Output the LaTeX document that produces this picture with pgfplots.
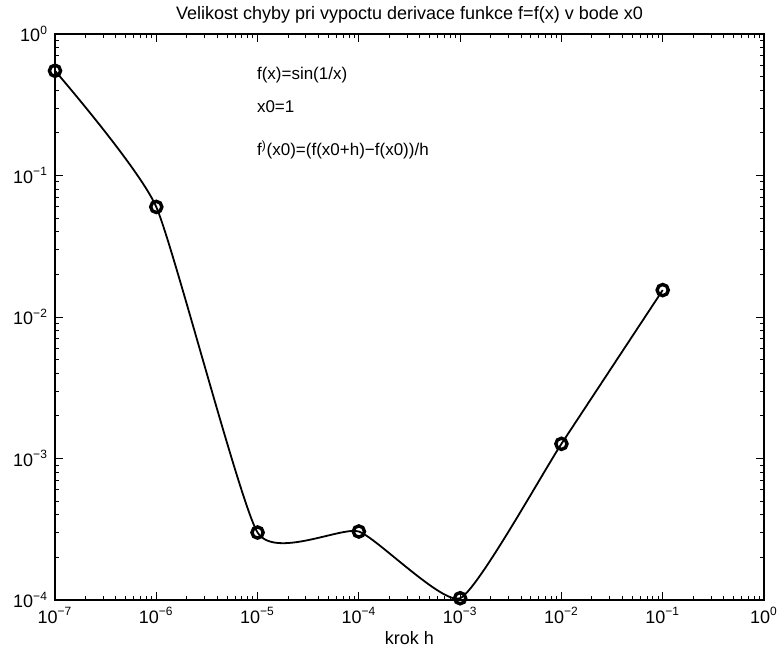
\documentclass[border=0pt]{standalone}
\usepackage{fontspec}
\setmainfont{Liberation Sans}
\usepackage{pgfplots}
\pgfplotsset{compat=1.18}
\newcommand\tp[1]{10\textsuperscript{#1}}
\begin{document}
\begin{tikzpicture}
\begin{axis}[
  scale only axis,
  width=354.5pt, height=283pt,
  xmode=log, ymode=log,
  xmin=1e-7, xmax=1, ymin=1e-4, ymax=1,
  axis line style={line width=0.8pt},
  xtick={1e-7,1e-6,1e-5,1e-4,1e-3,1e-2,1e-1,1},
  xticklabels={\tp{−7},\tp{−6},\tp{−5},\tp{−4},\tp{−3},\tp{−2},\tp{−1},\tp{0}},
  ytick={1e-4,1e-3,1e-2,1e-1,1},
  yticklabels={\tp{−4},\tp{−3},\tp{−2},\tp{−1},\tp{0}},
  tick label style={font=\fontsize{9}{10}\selectfont},
  major tick length=4pt, minor tick length=2pt,
  tick style={black, line width=0.5pt},
  xlabel={krok h},
  xlabel style={font=\fontsize{9}{10}\selectfont, yshift=3pt},
  title={Velikost chyby pri vypoctu derivace funkce f=f(x) v bode x0},
  title style={font=\fontsize{9}{10}\selectfont, yshift=-4pt},
  clip=false,
]
\addplot[black, line width=0.9pt, smooth, tension=0.3, mark=o, mark size=2.8pt,
  mark options={line width=1.7pt}] coordinates {
  (1e-7, 0.55)
  (1e-6, 0.060)
  (1e-5, 3.0e-4)
  (1e-4, 3.05e-4)
  (1e-3, 1.03e-4)
  (1e-2, 1.27e-3)
  (1e-1, 0.0155)
};
\node[anchor=west, font=\fontsize{8.5}{10}\selectfont] at (rel axis cs:0.275,0.928) {f(x)=sin(1/x)};
\node[anchor=west, font=\fontsize{8.5}{10}\selectfont] at (rel axis cs:0.275,0.871) {x0=1};
\node[anchor=west, font=\fontsize{8.5}{10}\selectfont] at (rel axis cs:0.275,0.795) {f\textsuperscript{)}(x0)=(f(x0+h)−f(x0))/h};
\end{axis}
\pgfresetboundingbox
\path ([shift={(-27.5pt,-32pt)}]current axis.south west) rectangle ([shift={(10pt,17pt)}]current axis.north east);
\end{tikzpicture}
\end{document}
